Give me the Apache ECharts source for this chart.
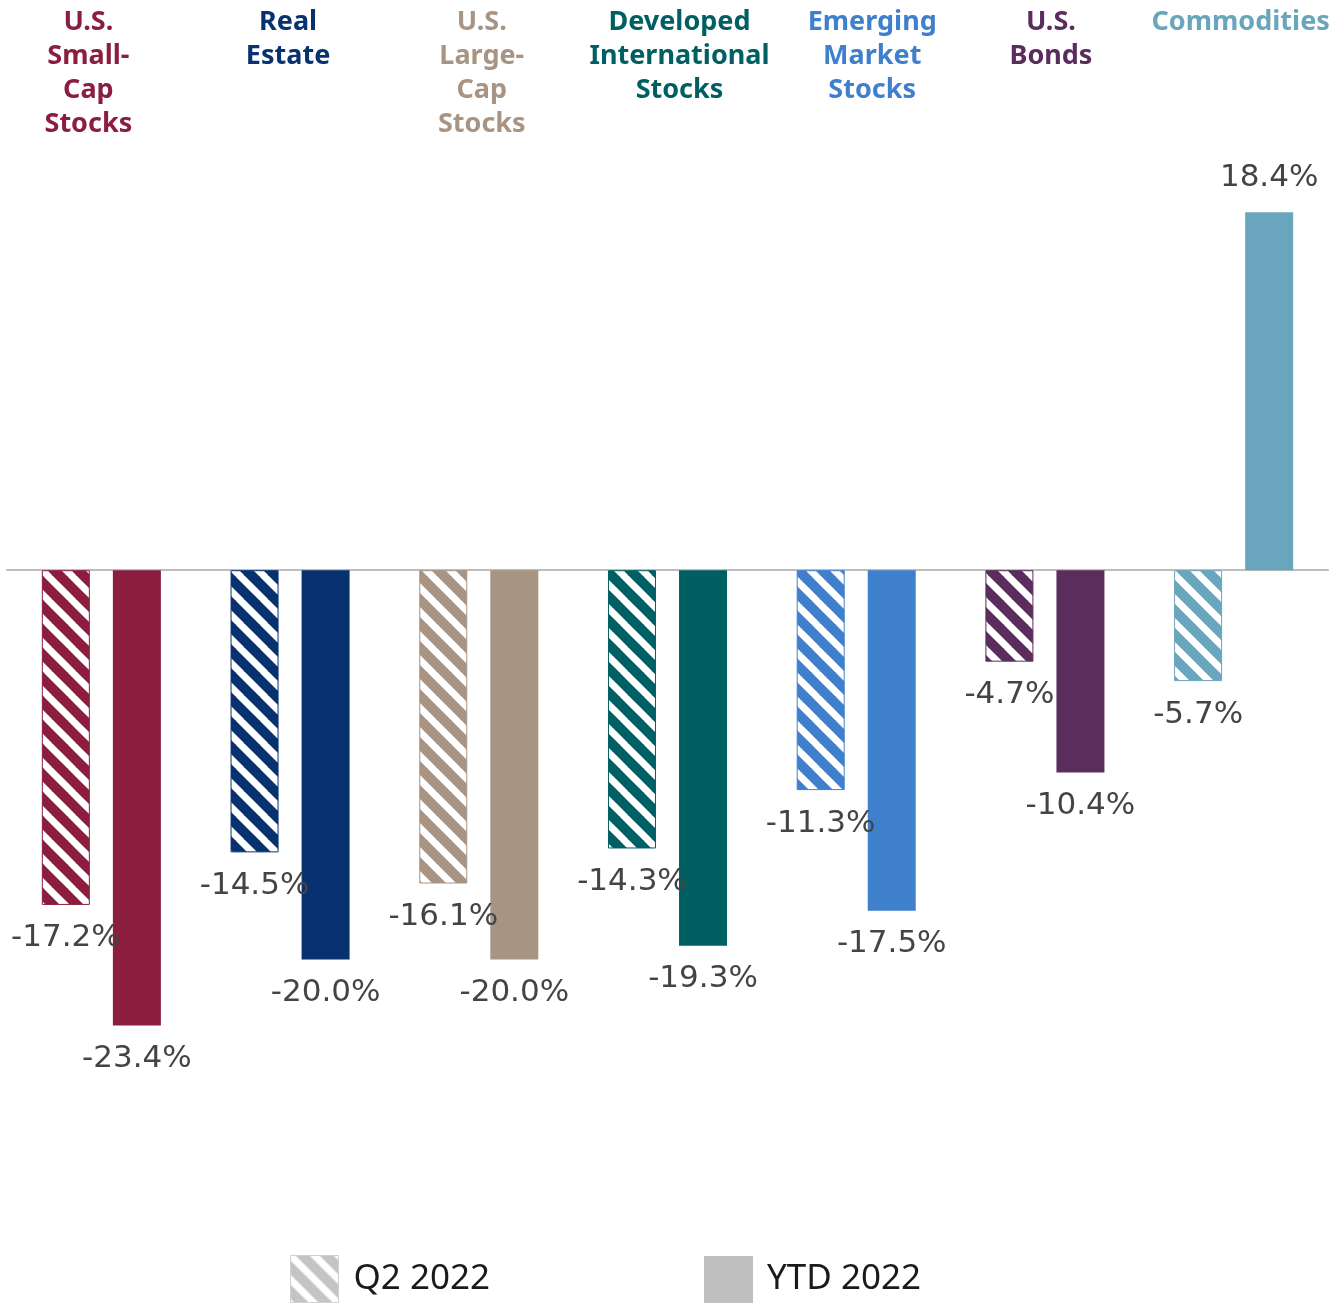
<!DOCTYPE html>
<html>
<head>
<meta charset="utf-8">
<script src="https://cdn.jsdelivr.net/npm/echarts@6/dist/echarts.min.js"></script>
<style>
html,body{margin:0;padding:0;background:#fff;}
#chart{width:1338px;height:1303px;}
</style>
</head>
<body>
<div id="chart"></div>
<script>
const categories = ['U.S.\nSmall-\nCap\nStocks', 'Real\nEstate', 'U.S.\nLarge-\nCap\nStocks', 'Developed\nInternational\nStocks', 'Emerging\nMarket\nStocks', 'U.S.\nBonds', 'Commodities'];
const q2Values = [-17.2, -14.5, -16.1, -14.3, -11.3, -4.7, -5.7];
const ytdValues = [-23.4, -20.0, -20.0, -19.3, -17.5, -10.4, 18.4];
const catColors = ['#8B1D3F', '#07326F', '#A89483', '#005F63', '#3F80CC', '#5A2D5C', '#69A5BC'];
const seriesNames = ['Q2 2022', 'YTD 2022'];
// horizontal nudges of the category titles (px, relative to group centre)
const titleShift = [-13, -2, 3, 12, 16, 6, 7];

function hatch(color, size, white) {
  const c = document.createElement('canvas');
  c.width = size; c.height = size;
  const ctx = c.getContext('2d');
  ctx.fillStyle = color;
  ctx.fillRect(0, 0, size, size);
  ctx.strokeStyle = '#ffffff';
  ctx.lineWidth = white;
  for (let k = -size; k <= size; k += size) {
    ctx.beginPath();
    ctx.moveTo(k - 2, -2);
    ctx.lineTo(k + size + 2, size + 2);
    ctx.stroke();
  }
  return c;
}

const chart = echarts.init(document.getElementById('chart'), null, {renderer: 'canvas'});

const labelFont = {fontFamily: 'DejaVu Sans', fontSize: 31, color: '#444444'};

function mkLabel(v) {
  return Object.assign({
    show: true,
    position: v < 0 ? 'bottom' : 'top',
    distance: v < 0 ? 18 : 19,
    formatter: (p) => p.value.toFixed(1) + '%'
  }, labelFont);
}

const q2Data = q2Values.map((v, i) => ({
  value: v,
  itemStyle: {color: {image: hatch(catColors[i], 24, 7), repeat: 'repeat'}, borderColor: catColors[i], borderWidth: 1, opacity: 1},
  label: mkLabel(v)
}));
const ytdData = ytdValues.map((v, i) => ({
  value: v,
  itemStyle: {color: catColors[i]},
  label: mkLabel(v)
}));

const rich = {};
catColors.forEach((c, i) => {
  const s = titleShift[i];
  rich['c' + i] = {
    color: c, fontFamily: 'Noto Sans', fontWeight: 'bold', fontSize: 27, lineHeight: 34,
    padding: s >= 0 ? [0, 0, 0, 2 * s] : [0, -2 * s, 0, 0]
  };
});

const option = {
  backgroundColor: '#ffffff',
  animation: false,
  grid: {left: 7, right: 10, top: 181, bottom: 149, containLabel: false},
  legend: [
    {
      data: [{name: seriesNames[0], itemStyle: {color: {image: hatch('#c4c4c4', 24, 7), repeat: 'repeat'}, borderColor: '#d0d0d0', borderWidth: 1}}],
      left: 290, bottom: 0, padding: 0, itemWidth: 48, itemHeight: 47, icon: 'rect',
      textStyle: {fontFamily: 'Noto Sans', fontSize: 35, color: '#1a1a1a', padding: [0, 0, 0, 10]}
    },
    {
      data: [{name: seriesNames[1], itemStyle: {color: '#c0c0c0'}}],
      left: 704, bottom: 0, padding: 0, itemWidth: 49, itemHeight: 47, icon: 'rect',
      textStyle: {fontFamily: 'Noto Sans', fontSize: 35, color: '#1a1a1a', padding: [6, 0, 0, 9]}
    }
  ],
  xAxis: [
    {
      type: 'category', data: categories, position: 'bottom',
      axisLine: {onZero: true, lineStyle: {color: '#bdbdbd', width: 2}},
      axisTick: {show: false}, axisLabel: {show: false}
    },
    {
      type: 'category', data: categories, position: 'top',
      axisLine: {show: false, onZero: false}, axisTick: {show: false},
      axisLabel: {
        show: true, interval: 0, margin: 176, verticalAlign: 'top',
        fontFamily: 'Noto Sans', fontWeight: 'bold', fontSize: 27, lineHeight: 34,
        formatter: (val, idx) => val.split('\n').map(l => '{c' + idx + '|' + l + '}').join('\n'),
        rich: rich
      }
    }
  ],
  yAxis: {
    type: 'value', min: -30, max: 20, show: false,
    splitLine: {show: false}
  },
  series: [
    {name: seriesNames[0], type: 'bar', xAxisIndex: 0, barWidth: 48, barGap: '48%', data: q2Data, itemStyle: {color: '#c4c4c4'}},
    {name: seriesNames[1], type: 'bar', xAxisIndex: 0, barWidth: 48, barGap: '48%', data: ytdData, itemStyle: {color: '#c0c0c0'}}
  ]
};
chart.setOption(option);
</script>
</body>
</html>
